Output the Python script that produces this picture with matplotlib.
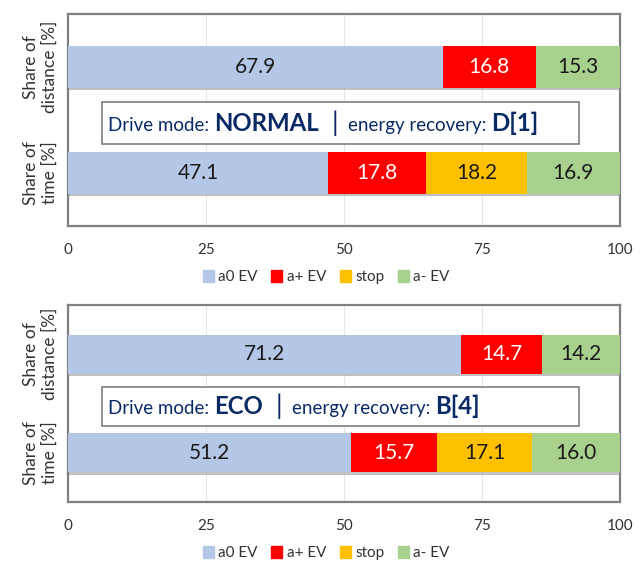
import matplotlib
matplotlib.use("Agg")
import matplotlib.pyplot as plt
from matplotlib.patches import Rectangle
from matplotlib.offsetbox import TextArea, HPacker, AnchoredOffsetbox, DrawingArea
import matplotlib.patheffects as pe

plt.rcParams['font.family'] = ['Lato', 'DejaVu Sans']

categories = ["a0 EV", "a+ EV", "stop", "a- EV"]
colors = ["#B4C7E7", "#FF0000", "#FFC000", "#A9D18E"]
label_colors = ["#1a1a1a", "white", "#1a1a1a", "#1a1a1a"]
row_labels = ["Share of\ntime [%]", "Share of\ndistance [%]"]

normal_time = [47.1, 17.8, 18.2, 16.9]
normal_dist = [67.9, 16.8, 0.0, 15.3]
eco_time = [51.2, 15.7, 17.1, 16.0]
eco_dist = [71.2, 14.7, 0.0, 14.2]

modes = [("NORMAL", "D[1]"), ("ECO", "B[4]")]
xticks = [0, 25, 50, 75, 100]

fig = plt.figure(figsize=(6.4, 5.63), dpi=100)
axes_rects = [
    [68/640, 1-226/563, 552/640, 212/563],
    [68/640, 1-502/563, 552/640, 197/563],
]
datasets = [(normal_time, normal_dist), (eco_time, eco_dist)]
navy = "#0A2A66"

for rect, (tvals, dvals), (mode, rec) in zip(axes_rects, datasets, modes):
    ax = fig.add_axes(rect)
    rows = [tvals, dvals]
    for yi, vals in enumerate(rows):
        left = 0.0
        for v, c, lc in zip(vals, colors, label_colors):
            if v > 0:
                b = ax.barh(yi, v, left=left, height=0.4, color=c, zorder=3)
                b[0].set_path_effects([pe.SimplePatchShadow(offset=(0.5, -1.5), shadow_rgbFace='#999999', alpha=0.6), pe.Normal()])
                ax.text(left + v/2, yi, f"{v:.1f}", ha='center', va='center',
                        fontsize=15, color=lc, zorder=4)
            left += v
    ax.set_xlim(0, 100)
    ax.set_ylim(-0.5, 1.5)
    ax.set_xticks(xticks)
    ax.set_xticklabels([str(t) for t in xticks], fontsize=11, color="#333333")
    ax.tick_params(axis='x', length=0, pad=12)
    ax.set_yticks([0, 1])
    ax.set_yticklabels(row_labels, rotation=90, va='center', ha='center',
                       fontsize=12.5, color="#333333", linespacing=1.15)
    ax.tick_params(axis='y', length=0, pad=20)
    ax.grid(axis='x', color='#E6E6E6', linewidth=0.8, zorder=0)
    for s in ax.spines.values():
        s.set_color('#808080')
        s.set_linewidth(1.6)

    # annotation box
    ax.add_patch(Rectangle((6.2, 0.47 - 0.2), 86.4, 0.4, facecolor='white',
                           edgecolor='#7F7F7F', linewidth=1.2, zorder=5))
    parts = [
        TextArea("Drive mode: ", textprops=dict(fontsize=13.5, color=navy)),
        TextArea(mode, textprops=dict(fontsize=17.3, color=navy, fontweight='bold')),
        DrawingArea(9, 1),
        TextArea("|", textprops=dict(fontsize=19, color=navy)),
        DrawingArea(7, 1),
        TextArea("energy recovery: ", textprops=dict(fontsize=13.5, color=navy)),
        TextArea(rec, textprops=dict(fontsize=17.3, color=navy, fontweight='bold')),
    ]
    pack = HPacker(children=parts, align="baseline", pad=0, sep=0)
    ab = AnchoredOffsetbox(loc='center left', child=pack, frameon=False,
                           bbox_to_anchor=(7.3, 0.47), bbox_transform=ax.transData,
                           pad=0, borderpad=0)
    ab.set_zorder(6)
    ax.add_artist(ab)

    handles = [Rectangle((0, 0), 1, 1, color=c) for c in colors]
    fig.legend(handles, categories, loc='center',
               bbox_to_anchor=(0.51, rect[1] - 51/563), ncol=4, frameon=False,
               fontsize=11, handlelength=0.7, handleheight=0.9,
               handletextpad=0.3, columnspacing=0.9,
               labelcolor="#333333")

fig.savefig("out.png", dpi=100)
